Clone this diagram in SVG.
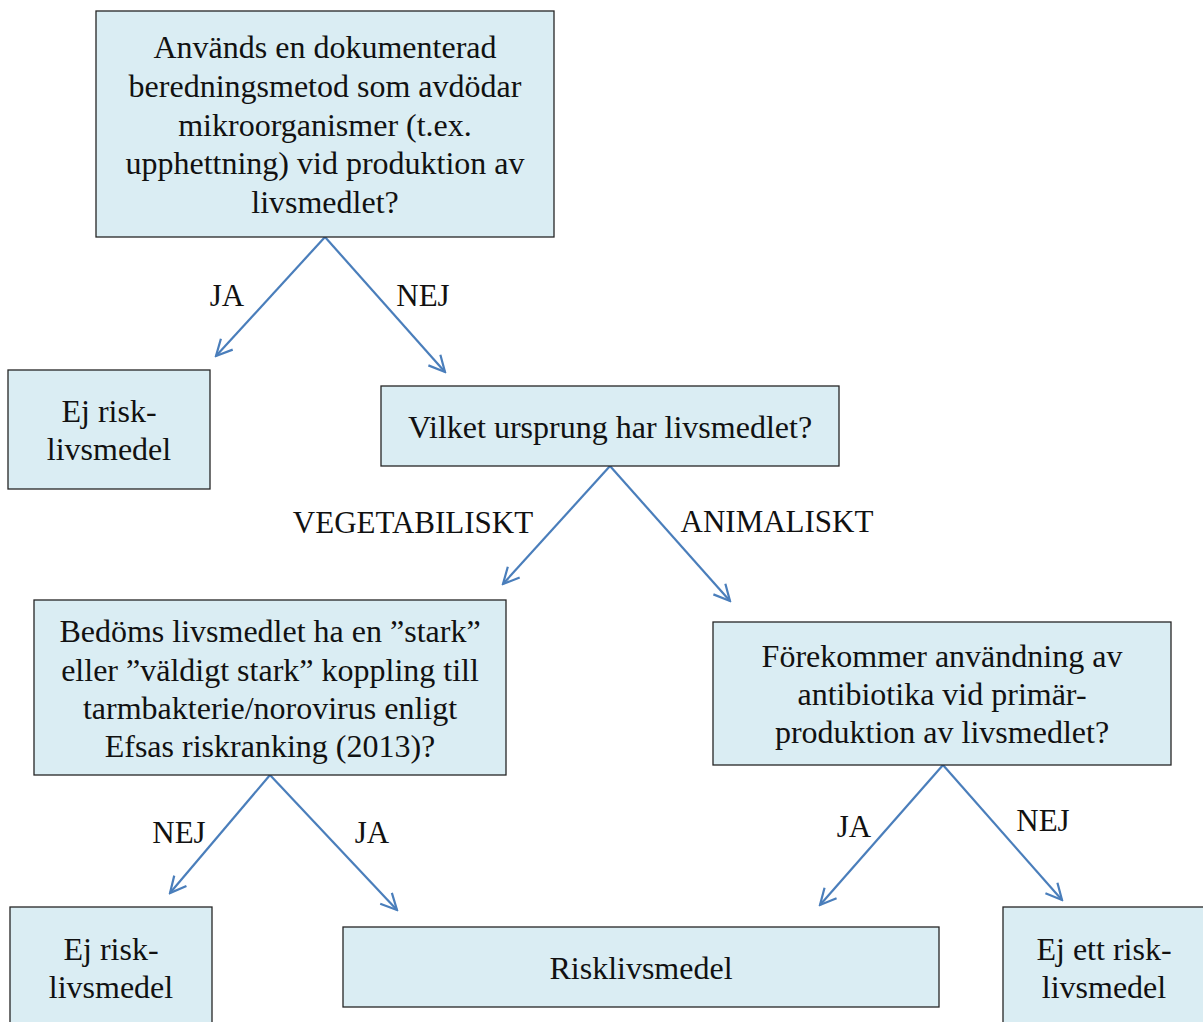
<svg xmlns="http://www.w3.org/2000/svg" width="1203" height="1022" viewBox="0 0 1203 1022">
<style>
.box{fill:#daedf3;stroke:#262626;stroke-width:1.3}
.t{font-family:"Liberation Serif","Times New Roman",serif;font-size:32px;fill:#111;text-anchor:middle}
.l{font-family:"Liberation Serif","Times New Roman",serif;font-size:31px;fill:#111;text-anchor:middle}
.c{stroke:#4a7ebb;stroke-width:2.2;fill:none;marker-end:url(#ah)}
</style>
<defs>
<marker id="ah" viewBox="0 0 20 20" refX="18" refY="10" markerWidth="20" markerHeight="20" markerUnits="userSpaceOnUse" orient="auto">
<path d="M2,2 L18,10 L2,18" fill="none" stroke="#4a7ebb" stroke-width="2.2"/>
</marker>
</defs>
<rect width="1203" height="1022" fill="#fff"/>
<g id="connectors">
<line class="c" x1="325" y1="237" x2="216" y2="356"/>
<line class="c" x1="325" y1="237" x2="445" y2="372"/>
<line class="c" x1="610" y1="466" x2="503" y2="584"/>
<line class="c" x1="610" y1="466" x2="730" y2="601"/>
<line class="c" x1="270" y1="775" x2="170" y2="893"/>
<line class="c" x1="270" y1="775" x2="397" y2="910"/>
<line class="c" x1="943" y1="765" x2="820" y2="905"/>
<line class="c" x1="943" y1="765" x2="1062" y2="900"/>
</g>
<g id="labels">
<text class="l" x="227" y="306">JA</text>
<text class="l" x="423" y="306">NEJ</text>
<text class="l" x="413" y="533">VEGETABILISKT</text>
<text class="l" x="777" y="532">ANIMALISKT</text>
<text class="l" x="179" y="843">NEJ</text>
<text class="l" x="372" y="843">JA</text>
<text class="l" x="854" y="837">JA</text>
<text class="l" x="1043" y="831">NEJ</text>
</g>
<g id="n1">
<rect class="box" x="96" y="11" width="458" height="226"/>
<text class="t" x="325" y="58">Används en dokumenterad</text>
<text class="t" x="325" y="97">beredningsmetod som avdödar</text>
<text class="t" x="325" y="136">mikroorganismer (t.ex.</text>
<text class="t" x="325" y="174">upphettning) vid produktion av</text>
<text class="t" x="325" y="213">livsmedlet?</text>
</g>
<g id="n2">
<rect class="box" x="8" y="370" width="202" height="119"/>
<text class="t" x="109" y="422">Ej risk-</text>
<text class="t" x="109" y="460">livsmedel</text>
</g>
<g id="n3">
<rect class="box" x="381" y="386" width="458" height="80"/>
<text class="t" x="610" y="438">Vilket ursprung har livsmedlet?</text>
</g>
<g id="n4">
<rect class="box" x="34" y="600" width="472" height="175"/>
<text class="t" x="270" y="642">Bedöms livsmedlet ha en ”stark”</text>
<text class="t" x="270" y="681">eller ”väldigt stark” koppling till</text>
<text class="t" x="270" y="719">tarmbakterie/norovirus enligt</text>
<text class="t" x="270" y="757">Efsas riskranking (2013)?</text>
</g>
<g id="n5">
<rect class="box" x="713" y="622" width="458" height="143"/>
<text class="t" x="942" y="667">Förekommer användning av</text>
<text class="t" x="942" y="705">antibiotika vid primär-</text>
<text class="t" x="942" y="743">produktion av livsmedlet?</text>
</g>
<g id="n6">
<rect class="box" x="10" y="907" width="202" height="130"/>
<text class="t" x="111" y="960">Ej risk-</text>
<text class="t" x="111" y="998">livsmedel</text>
</g>
<g id="n7">
<rect class="box" x="343" y="927" width="596" height="80"/>
<text class="t" x="641" y="979">Risklivsmedel</text>
</g>
<g id="n8">
<rect class="box" x="1003" y="907" width="220" height="130"/>
<text class="t" x="1104" y="960">Ej ett risk-</text>
<text class="t" x="1104" y="998">livsmedel</text>
</g>
</svg>
